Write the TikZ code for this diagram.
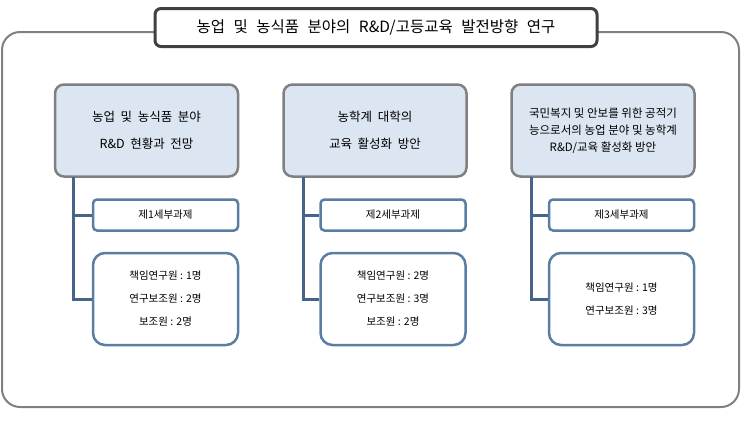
\documentclass[tikz,border=0pt]{standalone}
\usepackage{fontspec}
\newfontfamily\kr{Noto Sans CJK KR}
\newcommand\ttlfont{\kr\fontsize{15.5}{17}\selectfont\spaceskip=0.55em plus 0pt\relax}
\newcommand\topfont{\kr\fontsize{12.5}{27}\selectfont\spaceskip=0.45em plus 0pt\relax}
\begin{document}
\begin{tikzpicture}[x=1pt,y=-1pt,
  frame/.style={draw=black!50,line width=2pt,rounded corners=18pt},
  titlebox/.style={draw=black!75,line width=3pt,fill=white,rounded corners=6pt,minimum width=442pt,minimum height=38pt,font=\ttlfont},
  topbox/.style={draw=black!50,line width=2.5pt,fill=topfill,rounded corners=9pt,minimum width=183pt,minimum height=92pt,align=center,inner sep=0pt},
  subbox/.style={draw=boxblue,line width=2.5pt,fill=white,rounded corners=4pt,minimum width=145pt,minimum height=31pt,font=\kr\fontsize{10.5}{12}\selectfont},
  membox/.style={draw=boxblue,line width=2.5pt,fill=white,rounded corners=12pt,minimum width=145pt,minimum height=92pt,align=center,font=\kr\fontsize{10.5}{23}\selectfont},
  conn/.style={draw=connblue,line width=3pt}]
\definecolor{topfill}{HTML}{DCE6F2}
\definecolor{boxblue}{HTML}{5A7DA3}
\definecolor{connblue}{HTML}{46648A}
\useasboundingbox (0,0) rectangle (741,429);
\draw[frame] (2,32) rectangle (739,407);
\node[titlebox] (title) at (376,27.5) {농업 및 농식품 분야의 R\&D/고등교육 발전방향 연구};

\node[topbox,font=\topfont] (t1) at (146.5,130.5) {농업 및 농식품 분야\\R\&D 현황과 전망};
\node[topbox,font=\topfont] (t2) at (375,130.5) {농학계 대학의\\교육 활성화 방안};
\node[topbox,font=\kr\fontsize{11.5}{17}\selectfont] (t3) at (603,130.5) {국민복지 및 안보를 위한 공적기\\능으로서의 농업 분야 및 농학계\\R\&D/교육 활성화 방안};

\node[subbox] (s1) at (165.5,215) {제1세부과제};
\node[subbox] (s2) at (393,215) {제2세부과제};
\node[subbox] (s3) at (621.5,215) {제3세부과제};

\node[membox] (m1) at (165.5,299) {책임연구원 : 1명\\연구보조원 : 2명\\보조원 : 2명};
\node[membox] (m2) at (393,299) {책임연구원 : 2명\\연구보조원 : 3명\\보조원 : 2명};
\node[membox] (m3) at (621.5,299) {책임연구원 : 1명\\연구보조원 : 3명};

\coordinate (v1) at (73,177);
\coordinate (v2) at (303,177);
\coordinate (v3) at (531,177);
\foreach \i in {1,2,3}{
  \draw[conn] (v\i) |- (m\i.west);
  \draw[conn] (v\i |- s\i.west) -- (s\i.west);
}
\end{tikzpicture}
\end{document}
